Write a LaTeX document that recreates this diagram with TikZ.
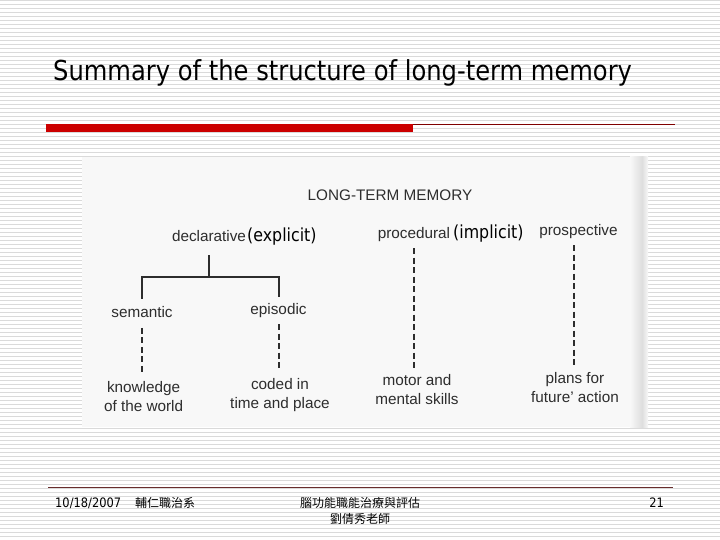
\documentclass[tikz,border=0pt]{standalone}
\usepackage{fontspec}
\setmainfont{Liberation Sans}
\newfontfamily\scanfont{Liberation Sans}
\newfontfamily\slidefont[FakeStretch=0.88]{DejaVu Sans}
\newfontfamily\cjk{Noto Sans CJK TC}
\definecolor{stripe}{RGB}{218,218,218}
\definecolor{barred}{RGB}{204,0,0}
\definecolor{darkred}{RGB}{128,0,0}
\definecolor{footline}{RGB}{105,45,45}
\definecolor{ink}{RGB}{45,45,45}
\definecolor{paper}{RGB}{248,248,248}
\definecolor{gutter}{RGB}{222,222,222}
\begin{document}
\begin{tikzpicture}[x=1pt,y=-1pt,
  scan/.style={font=\scanfont\fontsize{15.3}{19}\selectfont, text=ink, inner sep=0pt, text height=11pt, text depth=3pt},
  scanml/.style={font=\scanfont\fontsize{15.3}{19}\selectfont, text=ink, inner sep=0pt, align=center, anchor=north},
  paren/.style={font=\slidefont\fontsize{18}{20}\selectfont, inner sep=0pt, text height=11pt, text depth=3pt, anchor=west},
  tree/.style={draw=ink, line width=2pt},
  dashline/.style={draw=ink, line width=2pt, dash pattern=on 6pt off 3.5pt},
  foot/.style={font=\slidefont\fontsize{13}{15}\selectfont, inner sep=0pt},
  cjkfoot/.style={font=\cjk\fontsize{12}{15}\selectfont, inner sep=0pt}
]
\useasboundingbox (0,0) rectangle (720,540);
\fill[white] (0,0) rectangle (720,540);
\foreach \k in {0,...,134} \draw[stripe, line width=1pt] (0,4*\k+0.5) -- (720,4*\k+0.5);

% title and bar
\node[anchor=west, font=\slidefont\fontsize{27.5}{30}\selectfont, inner sep=0pt] (title) at (53,73) {Summary of the structure of long-term memory};
\fill[barred] (46,124) rectangle (413,132);
\draw[darkred, line width=1pt] (413,124.5) -- (675,124.5);

% scanned figure area
\fill[paper] (82,157) rectangle (648,427);
\shade[left color=paper, right color=gutter] (630,157) rectangle (642,427);
\shade[left color=gutter, right color=paper] (642,157) rectangle (648,427);

\node[scan] (ltm) at (390,196.4) {LONG-TERM MEMORY};
\node[scan] (decl) at (209,237) {declarative};
\node[paren] (expl) at (247,237) {(explicit)};
\node[scan] (proc) at (414,234) {procedural};
\node[paren] (impl) at (453,234) {(implicit)};
\node[scan] (pros) at (578.5,232) {prospective};
\node[scan] (sem) at (142,313.6) {semantic};
\node[scan] (epi) at (278.5,310) {episodic};
\node[scanml] (know) at (143.6,381) {knowledge\\of the world};
\node[scanml] (coded) at (280,378.5) {coded in\\time and place};
\node[scanml] (motor) at (417,374) {motor and\\mental skills};
\node[scanml] (plans) at (575,372) {plans for\\future’ action};

\coordinate (j) at (209,276.5);
\draw[tree, shorten <=11pt] (decl.south) -- (j);
\draw[tree] ([yshift=7.6pt]sem.north) |- (j) -| ([yshift=6pt]epi.north);

\draw[dashline, shorten <=7pt, shorten >=7.5pt] (sem.south) -- (sem.south |- know.north);
\draw[dashline, shorten <=7pt, shorten >=9.5pt] (epi.south) -- (epi.south |- coded.north);
\draw[dashline, shorten <=7pt, shorten >=6pt] (proc.south) -- (proc.south |- motor.north);
\draw[dashline, shorten <=6pt, shorten >=7.5pt] ([xshift=-1.4pt]plans.north |- pros.south) -- ([xshift=-1.4pt]plans.north);

% footer
\draw[footline, line width=1pt] (48,487.5) -- (673,487.5);
\node[foot, anchor=west] (date) at (55,503) {10/18/2007};
\node[cjkfoot, anchor=west] (dept) at (135,503) {輔仁職治系};
\node[cjkfoot] (course) at (360,503) {腦功能職能治療與評估};
\node[cjkfoot] (teacher) at (360,519) {劉倩秀老師};
\node[foot, anchor=east] (page) at (664,503) {21};
\end{tikzpicture}
\end{document}
